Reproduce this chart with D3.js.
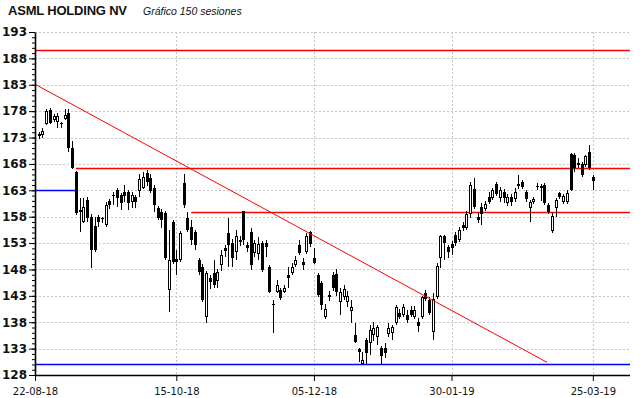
<!DOCTYPE html>
<html>
<head>
<meta charset="utf-8">
<script src="https://cdn.jsdelivr.net/npm/d3@7"></script>
<style>
body { margin: 0; background: #fff; }
svg { display: block; }
</style>
</head>
<body>
<svg width="640" height="398"></svg>
<script>

// 150 sesiones, OHLC
var opens = [173.6,173.5,175.6,178.2,176.3,176.0,175.8,176.5,177.7,171.0,
  166.4,159.2,157.0,161.2,158.0,156.3,158.0,157.7,156.4,161.0,
  162.2,163.1,162.2,162.7,162.7,160.8,161.8,162.9,163.5,166.3,
  165.4,163.5,159.7,158.9,158.7,144.1,157.0,150.0,149.8,164.4,
  157.8,156.1,155.1,149.8,148.5,139.0,146.4,147.4,145.8,148.9,
  152.1,154.9,153.0,151.3,153.6,159.1,152.7,155.1,151.1,150.9,
  153.0,153.0,148.5,141.5,143.7,144.1,143.7,146.9,147.4,148.9,
  152.7,149.4,151.3,155.1,150.2,147.0,145.5,139.0,143.2,147.0,
  147.2,141.9,142.8,141.9,140.2,135.6,133.0,130.1,134.7,134.1,
  135.6,135.2,133.2,133.2,135.8,136.0,137.9,139.8,139.4,139.4,
  140.3,139.0,138.1,139.0,143.5,142.2,136.2,142.8,150.2,154.3,
  152.3,152.9,154.5,153.6,156.4,155.9,158.5,163.3,157.9,159.9,
  159.5,161.8,161.6,164.2,161.6,162.7,160.6,161.8,161.4,164.2,
  164.6,162.7,159.7,160.8,163.9,163.5,164.0,160.2,155.3,159.7,
  162.4,160.8,160.8,169.9,169.7,168.2,168.0,167.8,170.3,165.5];
var highs = [174.0,174.9,178.4,178.6,177.5,177.6,175.9,178.4,178.4,172.4,
  166.6,161.5,161.5,161.8,158.6,158.0,158.3,158.0,160.8,161.3,
  162.7,163.5,162.5,164.0,163.1,162.6,162.2,166.0,166.4,166.8,
  166.0,164.0,160.0,159.5,159.1,155.5,157.4,151.7,155.3,166.1,
  158.9,157.4,155.5,150.2,149.0,147.8,147.0,149.8,148.1,151.7,
  152.7,157.8,153.8,155.5,154.3,159.1,153.2,155.9,153.6,154.2,
  153.4,153.6,148.9,142.2,146.0,144.5,145.1,148.5,149.2,150.6,
  153.6,150.2,155.0,155.3,152.1,147.4,145.8,141.5,144.0,147.5,
  148.0,144.5,145.0,143.9,142.2,137.9,133.2,132.4,135.0,137.5,
  138.0,137.5,133.5,134.0,137.8,137.5,141.3,140.5,141.5,140.3,
  141.0,141.1,138.8,143.0,144.1,142.8,143.5,149.2,154.6,154.6,
  152.7,153.4,155.1,156.1,157.0,159.1,164.6,165.4,158.7,160.6,
  161.0,162.7,163.5,164.6,163.7,163.3,162.3,162.3,163.5,165.9,
  165.0,163.1,161.2,161.8,164.4,164.2,164.4,160.6,158.7,161.6,
  162.7,162.3,163.0,170.1,170.1,169.1,168.4,169.7,171.6,165.9];
var lows = [172.8,173.0,175.4,175.6,176.0,174.8,174.8,176.3,170.2,167.0,
  158.3,155.1,156.8,157.0,148.3,151.4,156.1,156.8,156.1,159.5,
  160.2,159.9,159.3,160.8,159.3,159.7,159.7,161.8,163.3,163.8,
  162.5,158.9,157.4,155.9,149.8,140.0,149.0,147.0,149.4,159.7,
  155.1,152.7,151.7,147.0,141.8,137.9,144.3,144.5,144.5,147.8,
  150.4,148.5,148.5,149.8,152.5,152.7,151.3,147.9,150.4,149.8,
  147.6,150.4,143.5,136.0,143.5,142.2,143.5,144.5,147.0,148.5,
  150.8,147.9,151.0,152.3,149.0,142.8,140.3,138.6,142.0,143.9,
  143.0,139.4,142.2,140.9,137.9,134.1,130.5,130.0,130.0,131.8,
  134.5,133.7,129.9,131.2,135.2,134.7,137.5,138.6,139.0,137.9,
  139.0,138.6,136.2,138.6,142.0,139.4,134.7,142.4,148.3,149.8,
  150.2,150.8,152.5,153.2,155.3,155.5,157.8,159.5,156.8,156.5,
  159.1,160.4,161.2,162.0,160.8,160.6,160.0,160.0,160.8,163.3,
  163.3,160.8,156.9,160.4,163.1,161.0,160.2,158.5,154.9,158.0,
  161.4,160.4,160.4,162.9,166.5,167.2,165.5,167.4,166.8,163.1];
var closes = [173.2,174.3,178.0,175.8,177.1,177.0,175.6,177.3,171.0,167.2,
  158.7,158.8,159.9,157.8,151.7,151.7,157.0,157.5,160.2,160.3,
  161.9,161.6,160.6,161.9,160.6,162.2,160.8,165.2,165.6,164.5,
  162.8,160.2,157.8,157.4,150.2,149.8,149.4,149.4,155.0,160.2,
  155.5,153.6,152.7,147.6,142.2,147.4,145.6,145.1,147.6,150.8,
  151.5,152.7,150.2,154.3,153.2,153.6,152.1,148.9,153.0,152.9,
  147.9,152.3,143.7,141.3,145.1,142.6,144.5,146.4,148.5,149.8,
  151.1,148.9,154.3,152.9,149.2,143.1,141.3,140.5,142.8,144.5,
  143.7,143.7,144.3,143.0,140.9,134.3,132.4,130.9,132.2,136.6,
  136.9,137.1,131.6,132.1,137.0,137.1,140.9,139.0,140.9,138.5,
  139.4,140.3,137.3,142.8,142.4,139.8,142.4,148.7,154.3,153.0,
  151.3,152.1,153.0,155.5,155.9,158.5,164.0,159.9,157.4,158.5,
  160.4,160.8,163.1,162.3,163.1,161.6,161.8,160.8,162.7,163.8,
  163.7,161.4,160.8,161.4,163.7,163.9,160.6,158.9,158.2,161.2,
  161.8,161.9,162.5,163.1,167.2,167.8,165.9,169.5,167.2,164.8];

var priceTicks = [128, 133, 138, 143, 148, 153, 158, 163, 168, 173, 178, 183, 188, 193];
var dateTickIndex = [-1, 37, 74, 111, 149];
var dateTickLabels = ["22-08-18", "15-10-18", "05-12-18", "30-01-19", "25-03-19"];

// soportes / resistencias: nivel, sesion inicial, sesion final
var levelValue = [189.6, 167.2, 158.9, 163.0, 130.1];
var levelFrom = [-1, 10, 41, -1, -1];
var levelTo = [159, 159, 159, 10, 159];
var levelType = ["res", "res", "res", "sop", "sop"];

// directriz bajista
var trendIndex = [-1, 136.7];
var trendValue = [183.1, 130.4];

var levelColor = {"res": "#ff0000", "sop": "#0000ff"};

var svg = d3.select("svg");
var plotLeft = 35, plotRight = 630, plotTop = 32, plotBottom = 375;

var x = d3.scaleLinear().domain([-1, 159]).range([plotLeft, plotRight]);
var y = d3.scaleLinear().domain([128, 193]).range([plotBottom, plotTop]);

var data = opens.map(function(o, i) {
  return {i: i, o: o, h: highs[i], l: lows[i], c: closes[i]};
});

function px(v) { return Math.round(v) + 0.5; }

// titulo
svg.append("text")
  .attr("x", 8).attr("y", 15)
  .attr("font-family", "Liberation Sans, Arial, sans-serif")
  .attr("font-weight", "bold")
  .attr("font-size", "13px")
  .attr("letter-spacing", "-0.2px")
  .attr("fill", "#111")
  .text("ASML HOLDING NV");

svg.append("text")
  .attr("x", 143).attr("y", 15)
  .attr("font-family", "Liberation Sans, Arial, sans-serif")
  .attr("font-style", "italic")
  .attr("font-size", "10.5px")
  .attr("fill", "#111")
  .text("Gráfico 150 sesiones");

// rejilla
var grid = svg.append("g");
grid.selectAll(".hg")
  .data(priceTicks.slice(1))
  .enter().append("line")
  .attr("x1", plotLeft).attr("x2", plotRight)
  .attr("y1", function(d) { return px(y(d)); })
  .attr("y2", function(d) { return px(y(d)); })
  .attr("stroke", "#c4c4c4")
  .attr("stroke-dasharray", "2,2");

grid.selectAll(".vg")
  .data(dateTickIndex.slice(1))
  .enter().append("line")
  .attr("x1", function(d) { return px(x(d)); })
  .attr("x2", function(d) { return px(x(d)); })
  .attr("y1", plotTop).attr("y2", plotBottom)
  .attr("stroke", "#c4c4c4")
  .attr("stroke-dasharray", "2,2");

// niveles horizontales
svg.append("g").selectAll("line")
  .data(levelValue)
  .enter().append("line")
  .attr("x1", function(d, i) { return x(levelFrom[i]); })
  .attr("x2", function(d, i) { return x(levelTo[i]); })
  .attr("y1", function(d) { return px(y(d)); })
  .attr("y2", function(d) { return px(y(d)); })
  .attr("stroke", function(d, i) { return levelColor[levelType[i]]; })
  .attr("stroke-width", 1.3);

// velas
var candles = svg.append("g");
candles.selectAll(".wick")
  .data(data)
  .enter().append("line")
  .attr("x1", function(d) { return px(x(d.i)); })
  .attr("x2", function(d) { return px(x(d.i)); })
  .attr("y1", function(d) { return Math.round(y(d.h)); })
  .attr("y2", function(d) { return Math.round(y(d.l)); })
  .attr("stroke", "#000");

candles.selectAll(".body")
  .data(data)
  .enter().append("rect")
  .attr("x", function(d) { return px(x(d.i)) - (d.c >= d.o ? 1 : 1.5); })
  .attr("width", function(d) { return d.c >= d.o ? 2 : 3; })
  .attr("y", function(d) {
    var t = Math.round(y(Math.max(d.o, d.c)));
    return d.c >= d.o ? t + 0.5 : t;
  })
  .attr("height", function(d) {
    var h = Math.max(1, Math.round(y(Math.min(d.o, d.c))) - Math.round(y(Math.max(d.o, d.c))));
    return d.c >= d.o ? Math.max(1, h - 1) : h;
  })
  .attr("fill", function(d) { return d.c >= d.o ? "#fff" : "#000"; })
  .attr("stroke", function(d) { return d.c >= d.o ? "#000" : "none"; })
  .attr("stroke-width", 1);

// directriz
svg.append("line")
  .attr("x1", x(trendIndex[0])).attr("y1", y(trendValue[0]))
  .attr("x2", x(trendIndex[1])).attr("y2", y(trendValue[1]))
  .attr("stroke", "#ff0000")
  .attr("stroke-width", 1);

// ejes
var yAxisMinor = svg.append("g")
  .attr("transform", "translate(" + plotLeft + ",0)")
  .call(d3.axisLeft(y).tickValues(d3.range(128, 194)).tickSize(3).tickFormat(""));
yAxisMinor.select(".domain").remove();

var yAxis = svg.append("g")
  .attr("transform", "translate(" + plotLeft + ",0)")
  .call(d3.axisLeft(y).tickValues(priceTicks).tickSize(6).tickSizeOuter(0).tickPadding(2));
yAxis.selectAll("text")
  .attr("font-family", "DejaVu Sans, Verdana, sans-serif")
  .attr("font-weight", "bold")
  .attr("font-size", "12px")
  .attr("fill", "#111");

var xAxis = svg.append("g")
  .attr("transform", "translate(0," + plotBottom + ")")
  .call(d3.axisBottom(x).tickValues(dateTickIndex)
    .tickFormat(function(d, i) { return dateTickLabels[i]; })
    .tickSize(6).tickSizeOuter(0).tickPadding(7));
xAxis.select(".domain").attr("d", "M" + plotLeft + ",0.5H" + plotRight);
xAxis.selectAll("text")
  .attr("font-family", "DejaVu Sans, Verdana, sans-serif")
  .attr("font-size", "10px")
  .attr("fill", "#111");

svg.selectAll(".domain").attr("stroke-width", 1.6);

</script>
</body>
</html>
